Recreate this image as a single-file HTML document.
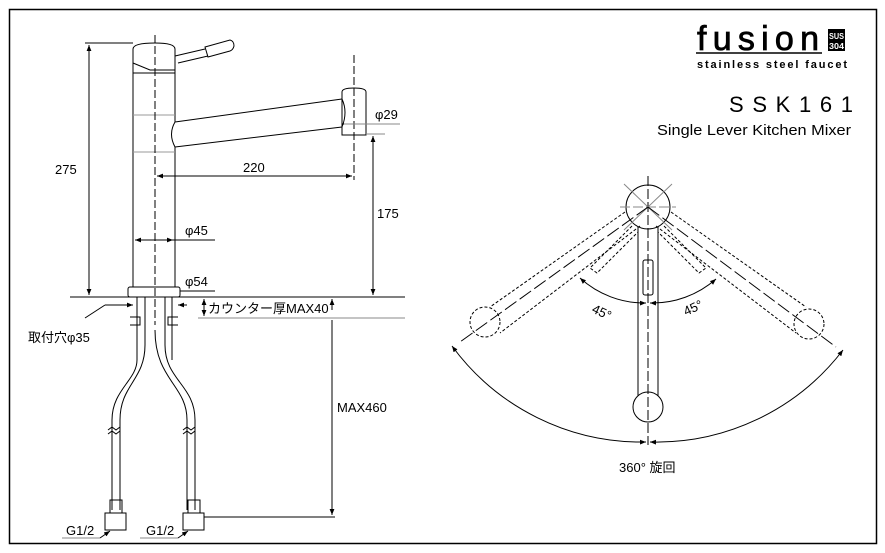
<!DOCTYPE html>
<html><head><meta charset="utf-8"><style>
body{margin:0;background:#fff;}
svg{display:block;font-family:"Liberation Sans","Noto Sans CJK JP",sans-serif;}
</style></head><body>
<svg width="885" height="553" viewBox="0 0 885 553" xmlns="http://www.w3.org/2000/svg">
<defs>
<marker id="a" viewBox="0 0 10 10" refX="10" refY="5" markerWidth="6" markerHeight="6" orient="auto-start-reverse"><path d="M0,1 L10,5 L0,9z" fill="#000"/></marker>
</defs>
<rect x="9.5" y="9.5" width="867" height="534" fill="none" stroke="#000" stroke-width="1.5"/>
<g stroke="#000" fill="none" stroke-width="1">
<path d="M133,73 L133,287 M175,73 L175,122 M175,147 L175,287"/>
<path d="M133,73 L133,49 Q133,43 155,43 Q175,43 175,49 L175,73 Z"/>
<path d="M133,63 L150,70 L175,70"/>
<path d="M175,56 L205,49 M178,63 L208,56"/>
<path d="M205,47 L230,40 Q234,41 234,46 Q233,50 230,51 L208,57 Z"/>
<path d="M175,122 L342,99 M175,147 L342,127"/>
<path d="M175,122 Q168,134 175,147"/>
<path d="M342,99 Q348,112 342,127"/>
<path d="M342,135 L342,92 Q342,88 354,88 Q366,88 366,92 L366,135 Z"/>
<line x1="342" y1="124" x2="366" y2="124"/>
<rect x="128" y="287" width="52" height="10" rx="2"/>
<line x1="133" y1="115" x2="175" y2="115" stroke="#999"/>
<line x1="133" y1="152" x2="175" y2="152" stroke="#999"/>
<path d="M137,297 L137,360 M145,297 L145,345 M165,297 L165,345 M172,297 L172,360"/>
<path d="M130,317 L140,317 L140,325 L130,325 M178,317 L168,317 L168,325 L178,325"/>
<path d="M145,345 C145,380 120,385 120,420 L120,510 M137,360 C137,380 112,390 112,420 L112,510"/>
<path d="M155,330 C155,380 187,385 187,420 L187,510 M165,345 C165,380 195,385 195,420 L195,510"/>
<path d="M108,430 l4,-3 l4,3 l4,-3 M108,434 l4,-3 l4,3 l4,-3 M183,430 l4,-3 l4,3 l4,-3 M183,434 l4,-3 l4,3 l4,-3"/>
<rect x="105" y="513" width="21" height="17"/><rect x="110" y="500" width="12" height="13"/>
<rect x="183" y="513" width="21" height="17"/><rect x="188" y="500" width="12" height="13"/>
<line x1="155" y1="35" x2="155" y2="325" stroke-dasharray="8,3"/>
<line x1="354" y1="55" x2="354" y2="180" stroke-dasharray="8,3"/>
<line x1="70" y1="297" x2="405" y2="297"/>
<line x1="198" y1="318" x2="405" y2="318" stroke="#888"/>
<line x1="85" y1="43" x2="133" y2="43"/>
<line x1="89" y1="45" x2="89" y2="295" marker-start="url(#a)" marker-end="url(#a)"/>
<line x1="157" y1="176" x2="352" y2="176" marker-start="url(#a)" marker-end="url(#a)"/>
<line x1="366" y1="134" x2="385" y2="134" stroke="#888"/>
<line x1="373" y1="136" x2="373" y2="295" marker-start="url(#a)" marker-end="url(#a)"/>
<line x1="344" y1="124" x2="400" y2="124" stroke="#888"/>
<line x1="135" y1="240" x2="173" y2="240" marker-start="url(#a)" marker-end="url(#a)"/>
<line x1="173" y1="240" x2="215" y2="240"/>
<line x1="180" y1="291" x2="215" y2="291"/>
<line x1="204" y1="299" x2="204" y2="316" marker-start="url(#a)" marker-end="url(#a)"/>
<line x1="332" y1="310" x2="332" y2="299" marker-end="url(#a)"/>
<line x1="332" y1="320" x2="332" y2="515" marker-end="url(#a)"/>
<line x1="204" y1="517" x2="335" y2="517"/>
<line x1="85" y1="318" x2="105" y2="305"/><line x1="105" y1="305" x2="133" y2="305" marker-end="url(#a)"/>
<line x1="187" y1="305" x2="178" y2="305" marker-end="url(#a)"/>
<line x1="62" y1="538" x2="100" y2="538" stroke="#888"/><line x1="100" y1="538" x2="110" y2="531" marker-end="url(#a)"/>
<line x1="140" y1="538" x2="178" y2="538" stroke="#888"/><line x1="178" y1="538" x2="188" y2="531" marker-end="url(#a)"/>
</g>
<g font-size="13" fill="#000">
<text x="55" y="174">275</text>
<text x="243" y="172">220</text>
<text x="377" y="218">175</text>
<text x="375" y="119">φ29</text>
<text x="185" y="235">φ45</text>
<text x="185" y="286">φ54</text>
<text x="208" y="313">カウンター厚MAX40</text>
<text x="337" y="412">MAX460</text>
<text x="28" y="342">取付穴φ35</text>
<text x="66" y="535">G1/2</text>
<text x="146" y="535">G1/2</text>
<text x="619" y="472">360° 旋回</text>
<text transform="translate(591,312) rotate(25)">45°</text>
<text transform="translate(686,316) rotate(-25)">45°</text>
</g>
<g stroke="#000" fill="none" stroke-width="1">
<line x1="638" y1="226" x2="638" y2="400"/><line x1="658" y1="226" x2="658" y2="400"/>
<circle cx="648" cy="207" r="22" fill="#fff"/>
<circle cx="648" cy="407" r="15" fill="#fff"/>
<rect x="643" y="260" width="10" height="35" rx="2"/>
<line x1="648" y1="176" x2="648" y2="445" stroke-dasharray="10,3"/>
<line x1="620" y1="207" x2="676" y2="207" stroke-dasharray="10,3" stroke="#888"/>
<line x1="624" y1="184" x2="672" y2="230" stroke="#888"/><line x1="672" y1="184" x2="624" y2="230" stroke="#888"/>
<g stroke-dasharray="3,2">
<path d="M625,212 L490,307 M640,226 L500,333"/>
<path d="M671,212 L806,307 M656,226 L796,333"/>
<circle cx="485" cy="322" r="15"/><circle cx="809" cy="324" r="15"/>
<path d="M632,226 L590,268 L597,273 L638,232"/>
<path d="M664,226 L706,268 L699,273 L658,232"/>
</g>
<line x1="648" y1="207" x2="460" y2="342" stroke-dasharray="14,4"/>
<line x1="648" y1="207" x2="836" y2="347" stroke-dasharray="14,4"/>
<path d="M580,278 A96,96 0 0 0 646,303" marker-start="url(#a)" marker-end="url(#a)"/>
<path d="M716,279 A96,96 0 0 1 650,303" marker-start="url(#a)" marker-end="url(#a)"/>
<path d="M452,346 A235,235 0 0 0 646,442" marker-start="url(#a)" marker-end="url(#a)"/>
<path d="M843,350 A235,235 0 0 1 650,442" marker-start="url(#a)" marker-end="url(#a)"/>
</g>
<text x="697" y="50" font-size="34" textLength="122" lengthAdjust="spacing" fill="#000" stroke="#000" stroke-width="0.8">fusion</text>
<line x1="696" y1="53" x2="822" y2="53" stroke="#000" stroke-width="1.5"/>
<rect x="828" y="29" width="17" height="22" fill="#000"/>
<text x="829" y="39" font-size="8.5" font-weight="bold" fill="#fff" textLength="15" lengthAdjust="spacingAndGlyphs">SUS</text>
<text x="829" y="49" font-size="8.5" font-weight="bold" fill="#fff" textLength="15" lengthAdjust="spacingAndGlyphs">304</text>
<text x="697" y="68" font-size="11" font-weight="bold" textLength="150" lengthAdjust="spacing" fill="#000">stainless steel faucet</text>
<text x="729" y="112" font-size="22" textLength="124" lengthAdjust="spacing" fill="#000">SSK161</text>
<text x="657" y="135" font-size="15" textLength="194" lengthAdjust="spacingAndGlyphs" fill="#000">Single Lever Kitchen Mixer</text>
</svg>
</body></html>
